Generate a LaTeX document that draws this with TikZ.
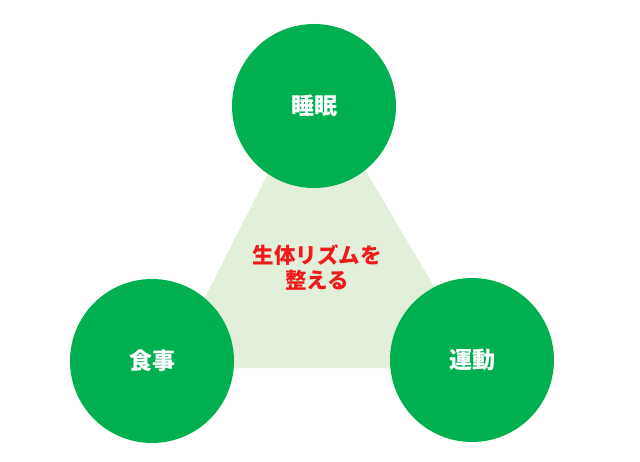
\documentclass[tikz,border=0pt]{standalone}
\usepackage{fontspec}
\newfontfamily\jpfont{Noto Sans CJK JP}
\usetikzlibrary{positioning}
\definecolor{ringgreen}{HTML}{00B050}
\definecolor{palegreen}{HTML}{E2EFDA}
\definecolor{rhythmred}{HTML}{F01A1A}

\begin{document}
\begin{tikzpicture}[x=1pt, y=-1pt,
    habit/.style={circle, fill=ringgreen, minimum size=164pt, inner sep=0pt,
        text=white, font=\jpfont\bfseries\fontsize{23}{23}\selectfont},
    goal/.style={text=rhythmred, align=center, inner sep=0pt,
        font=\jpfont\bfseries\fontsize{21.5}{25}\selectfont}]

    \useasboundingbox (0,0) rectangle (640,462);

    % Background triangle
    \coordinate (apex)  at (314,83);
    \coordinate (left)  at (169,368);
    \coordinate (right) at (482,368);
    \fill[palegreen] (apex) -- (left) -- (right) -- cycle;

    % Circles
    \node[habit] (sleep)    at (314,106) {睡眠};
    \node[habit] (meal)     at (152,361) {食事};
    \node[habit] (exercise) at (472,360) {運動};

    % Centre text
    \node[goal] (rhythm) at (317,267) {生体リズムを\\整える};

\end{tikzpicture}
\end{document}
